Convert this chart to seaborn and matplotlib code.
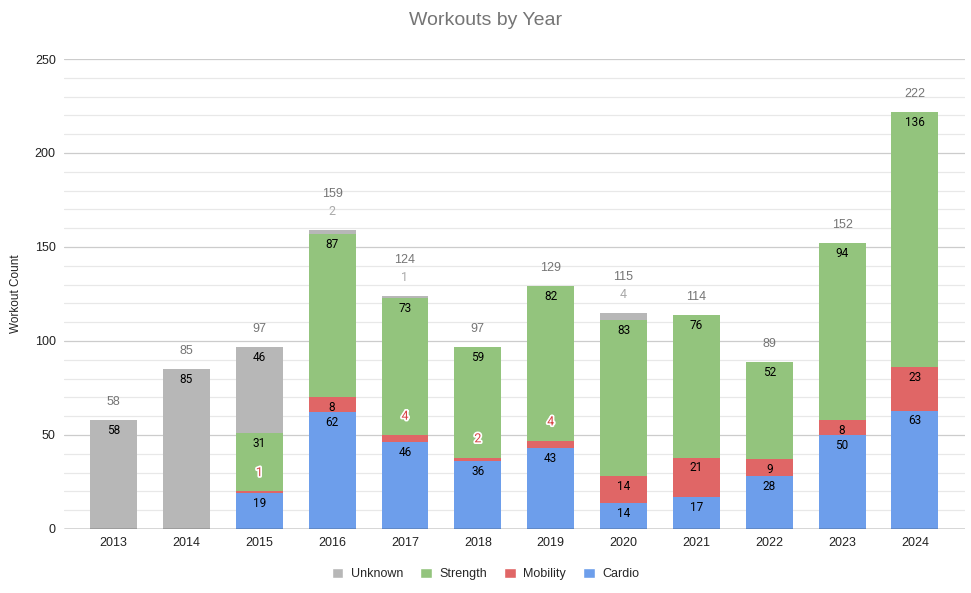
import matplotlib
matplotlib.use("Agg")
import matplotlib.pyplot as plt
import matplotlib.patheffects as pe
from matplotlib.patches import Patch
import numpy as np
import pandas as pd
import seaborn as sns

# Data
years = ['2013', '2014', '2015', '2016', '2017', '2018', '2019', '2020', '2021', '2022', '2023', '2024']
cardio = np.array([0, 0, 19, 62, 46, 36, 43, 14, 17, 28, 50, 63])
mobility = np.array([0, 0, 1, 8, 4, 2, 4, 14, 21, 9, 8, 23])
strength = np.array([0, 0, 31, 87, 73, 59, 82, 83, 76, 52, 94, 136])
unknown = np.array([58, 85, 46, 2, 1, 0, 0, 4, 0, 0, 0, 0])

colors = {'Unknown': '#b7b7b7', 'Strength': '#93c47d', 'Mobility': '#e06666', 'Cardio': '#6d9eeb'}

sns.set_style('white')
plt.rcParams['font.family'] = ['Liberation Sans', 'DejaVu Sans']

fig = plt.figure(figsize=(9.71, 5.93), dpi=100)
ax = fig.add_axes([0.066, 0.108, 0.928, 0.7925])

# stacking via cumulative sums, tallest drawn first
layers = [('Unknown', unknown), ('Strength', strength), ('Mobility', mobility), ('Cardio', cardio)]
tops = {}
acc = np.zeros(len(years))
for name, vals in reversed(layers):
    acc = acc + vals
    tops[name] = acc.copy()
total = acc

for name, vals in layers:
    df = pd.DataFrame({'year': years, 'top': tops[name]})
    sns.barplot(data=df, x='year', y='top', color=colors[name], width=0.645,
                saturation=1, linewidth=0, edgecolor='none', ax=ax, zorder=3)

# grid
for v in range(10, 251, 10):
    c = '#cccccc' if v % 50 == 0 else '#e8e8e8'
    ax.axhline(v, color=c, linewidth=0.9, zorder=0)
ax.axhline(0, color='#333333', linewidth=1.0, zorder=4)

# segment labels
outline = [pe.withStroke(linewidth=2.5, foreground='white')]
for i in range(len(years)):
    for name, vals in layers:
        v = vals[i]
        if v == 0:
            continue
        top = tops[name][i]
        if v >= 5:
            ax.annotate(str(v), (i, top), xytext=(0, -7.5), textcoords='offset points',
                        ha='center', va='center', fontsize=8.5, color='black',
                        family='Roboto', zorder=5)
        else:
            col = '#d64545' if name == 'Mobility' else '#aaaaaa'
            ax.annotate(str(v), (i, top), xytext=(0, 13.5), textcoords='offset points',
                        ha='center', va='center', fontsize=9, color=col,
                        family='Roboto', zorder=5,
                        path_effects=outline if name == 'Mobility' else None)
    off = 26 if 0 < unknown[i] < 5 else 13
    ax.annotate(str(int(total[i])), (i, total[i]), xytext=(0, off), textcoords='offset points',
                ha='center', va='center', fontsize=9, color='#757575', zorder=5)

ax.set_ylim(0, 250)
ax.set_xlim(-0.68, 11.69)
ax.set_yticks(range(0, 251, 50))
ax.tick_params(axis='both', labelsize=9, colors='#222222', length=0, pad=6)
ax.set_xlabel('')
ax.set_ylabel('Workout Count', fontsize=8.5, color='#222222', labelpad=9)
sns.despine(ax=ax, left=True, bottom=True)
fig.text(0.5, 0.966, 'Workouts by Year', ha='center', va='center', fontsize=14, color='#757575')

handles = [Patch(facecolor=colors[n], label=n) for n, _ in layers]
fig.legend(handles=handles, loc='center', bbox_to_anchor=(0.5, 1 - 574 / 593), ncol=4,
           frameon=False, fontsize=9, handlelength=0.9, handleheight=0.9,
           columnspacing=1.4, handletextpad=0.6)

fig.savefig('out.png', dpi=100)
